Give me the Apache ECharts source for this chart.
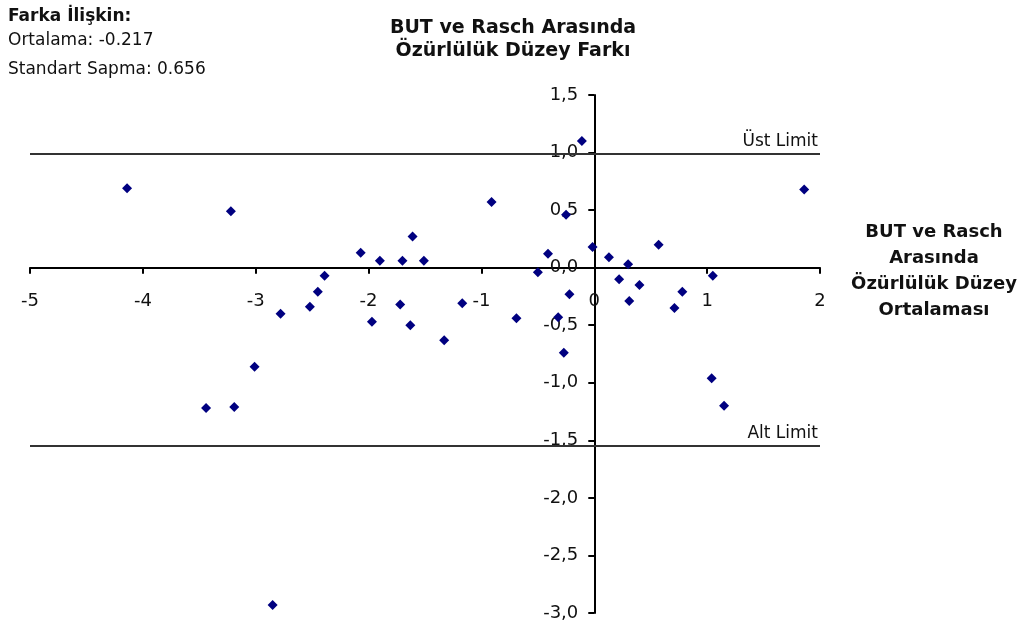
<!DOCTYPE html>
<html>
<head>
<meta charset="utf-8">
<script src="https://cdn.jsdelivr.net/npm/echarts@6/dist/echarts.min.js"></script>
<style>
  html, body { margin: 0; padding: 0; background: #fff; }
  #chart { width: 1031px; height: 634px; }
</style>
</head>
<body>
<div id="chart"></div>
<script>
// Mean of BUT and Rasch disability levels (x) versus their difference (y)
const meanLevel = [
  -4.14, -3.22, -2.39, -2.45, -2.52, -2.78, -3.01, -3.44, -3.19, -2.85,
  -2.07, -1.90, -1.70, -1.61, -1.51, -0.91, -0.25, -0.41, -0.50, -0.015,
  0.13, 0.22, 0.30, 0.31, -0.22, -0.32, -0.27, -0.69, -1.17, -1.33,
  -1.72, -1.63, -1.97, -0.11, 1.86, 0.57, 0.40, 0.78, 0.71, 1.05,
  1.04, 1.15
];
const levelDiff = [
  0.69, 0.49, -0.07, -0.21, -0.34, -0.40, -0.86, -1.22, -1.21, -2.93,
  0.13, 0.06, 0.06, 0.27, 0.06, 0.57, 0.46, 0.12, -0.04, 0.18,
  0.09, -0.10, 0.03, -0.29, -0.23, -0.43, -0.74, -0.44, -0.31, -0.63,
  -0.32, -0.50, -0.47, 1.10, 0.68, 0.20, -0.15, -0.21, -0.35, -0.07,
  -0.96, -1.20
];

// Agreement limits
const upperLimit = 0.99;
const lowerLimit = -1.55;
const limitNames = ['Üst Limit', 'Alt Limit'];

// Axis ranges and tick steps
const xRange = [-5, 2];
const xStep = 1;
const yRange = [-3, 1.5];
const yStep = 0.5;

// Text blocks
const titleLines = ['BUT ve Rasch Arasında', 'Özürlülük Düzey Farkı'];
const xAxisNameLines = ['BUT ve Rasch', 'Arasında', 'Özürlülük Düzey', 'Ortalaması'];
const statsHeading = 'Farka İlişkin:';
const statsLines = ['Ortalama: -0.217', 'Standart Sapma: 0.656'];

const FONT = 'DejaVu Sans';
const TEXT = '#111';

const points = meanLevel.map((x, i) => [x, levelDiff[i]]);

// Plot area; both axes are drawn crossing at the origin
const W = 1031, H = 634;
const grid = { left: 30, right: 211, top: 95, bottom: 21 };
const gridW = W - grid.left - grid.right;
const gridH = H - grid.top - grid.bottom;
const yAxisShift = -(0 - xRange[0]) / (xRange[1] - xRange[0]) * gridW;
const xAxisShift = -(0 - yRange[0]) / (yRange[1] - yRange[0]) * gridH;

const chart = echarts.init(document.getElementById('chart'), null, { renderer: 'canvas' });

chart.setOption({
  animation: false,
  backgroundColor: '#fff',
  grid: Object.assign({ containLabel: false, outerBoundsMode: 'none' }, grid),
  xAxis: {
    type: 'value',
    position: 'bottom',
    offset: xAxisShift,
    min: xRange[0], max: xRange[1], interval: xStep,
    axisLine: { onZero: false, lineStyle: { color: '#000', width: 2 } },
    axisTick: { show: true, inside: false, length: 6, lineStyle: { color: '#000', width: 2 } },
    axisLabel: { margin: 25, color: TEXT, fontFamily: FONT, fontSize: 18 },
    splitLine: { show: false }
  },
  yAxis: {
    type: 'value',
    position: 'left',
    offset: yAxisShift,
    min: yRange[0], max: yRange[1], interval: yStep,
    axisLine: { onZero: false, lineStyle: { color: '#000', width: 2 } },
    axisTick: { show: true, inside: false, length: 6, lineStyle: { color: '#000', width: 2 } },
    axisLabel: {
      margin: 16, color: TEXT, fontFamily: FONT, fontSize: 18,
      formatter: v => v.toFixed(1).replace('.', ',')
    },
    splitLine: { show: false }
  },
  series: [{
    type: 'scatter',
    data: points,
    symbol: 'diamond',
    symbolSize: 10,
    itemStyle: { color: '#000080', opacity: 1 },
    silent: true,
    markLine: {
      silent: true,
      symbol: ['none', 'none'],
      lineStyle: { color: '#333', width: 2, type: 'solid' },
      label: {
        show: true,
        position: 'insideEndTop',
        distance: [2, 4],
        color: TEXT,
        fontFamily: FONT,
        fontSize: 17
      },
      emphasis: { disabled: true },
      data: [
        { yAxis: upperLimit, label: { formatter: limitNames[0] } },
        { yAxis: lowerLimit, label: { formatter: limitNames[1] } }
      ]
    }
  }],
  graphic: [
    {
      type: 'text', silent: true,
      style: {
        x: 513, y: 39.5, text: titleLines.join('\n'),
        align: 'center', verticalAlign: 'middle', lineHeight: 23,
        fontFamily: FONT, fontSize: 19, fontWeight: 'bold', fill: TEXT
      }
    },
    {
      type: 'text', silent: true,
      style: {
        x: 934, y: 271.5, text: xAxisNameLines.join('\n'),
        align: 'center', verticalAlign: 'middle', lineHeight: 26,
        fontFamily: FONT, fontSize: 18, fontWeight: 'bold', fill: TEXT
      }
    },
    {
      type: 'text', silent: true,
      style: {
        x: 8, y: 17, text: statsHeading, align: 'left', verticalAlign: 'middle',
        fontFamily: FONT, fontSize: 17, fontWeight: 'bold', fill: TEXT
      }
    },
    {
      type: 'text', silent: true,
      style: {
        x: 8, y: 41, text: statsLines[0], align: 'left', verticalAlign: 'middle',
        fontFamily: FONT, fontSize: 17, fill: TEXT
      }
    },
    {
      type: 'text', silent: true,
      style: {
        x: 8, y: 70, text: statsLines[1], align: 'left', verticalAlign: 'middle',
        fontFamily: FONT, fontSize: 17, fill: TEXT
      }
    }
  ]
});
</script>
</body>
</html>
